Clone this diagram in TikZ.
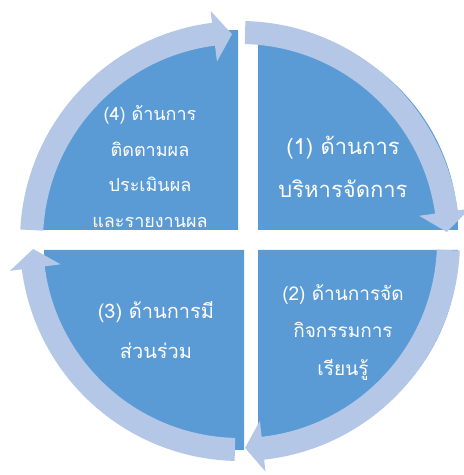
\documentclass[tikz,border=0pt]{standalone}
\usepackage{fontspec}
\newfontfamily\thaifont[Script=Thai]{Loma}
\definecolor{qblue}{HTML}{5B9BD5}
\definecolor{rblue}{HTML}{B4C7E7}
% start angle, arrowhead base angle, tip angle (clockwise)
\newcommand\ringarrow[3]{%
  \fill[rblue,shift={(240,234)}] (#1:220) arc[start angle=#1,end angle=#2,radius=220]
    -- (#2:232) -- (#3:207) -- (#2:181) -- (#2:197)
    arc[start angle=#2,end angle=#1,radius=197] -- cycle;}
\tikzset{
  qtext/.style={text=white,align=center,inner sep=0pt,font=\thaifont}
}
\begin{document}
\begin{tikzpicture}[x=1pt,y=1pt]
\useasboundingbox (0,0) rectangle (464,475);
% quadrants
\fill[qblue] (258,245) -- ++(200,0) arc[start angle=0,end angle=90,radius=200] -- cycle;
\fill[qblue] (238,245) -- ++(0,200) arc[start angle=90,end angle=180,radius=200] -- cycle;
\fill[qblue] (244,225) -- ++(-200,0) arc[start angle=180,end angle=270,radius=200] -- cycle;
\fill[qblue] (258,225) -- ++(0,-200) arc[start angle=270,end angle=360,radius=200] -- cycle;
% ring arrows
\ringarrow{88.6}{8}{2.5}
\ringarrow{-2.5}{-83.7}{-88.6}
\ringarrow{-91.4}{-172.6}{-177.8}
\ringarrow{-183}{-262.7}{-267.8}
% texts
\node[qtext,font=\thaifont\fontsize{22}{43}\selectfont] (t1) at (343,308.5) {(1) ด้านการ\\บริหารจัดการ};
\node[qtext,font=\thaifont\fontsize{19}{37.5}\selectfont] (t2) at (343,142.5) {(2) ด้านการจัด\\กิจกรรมการ\\เรียนรู้};
\node[qtext,font=\thaifont\fontsize{20}{40}\selectfont] (t3) at (156,145) {(3) ด้านการมี\\ส่วนร่วม};
\node[qtext,font=\thaifont\fontsize{18}{35.5}\selectfont] (t4) at (150,308.5) {(4) ด้านการ\\ติดตามผล\\ประเมินผล\\และรายงานผล};
\end{tikzpicture}
\end{document}
